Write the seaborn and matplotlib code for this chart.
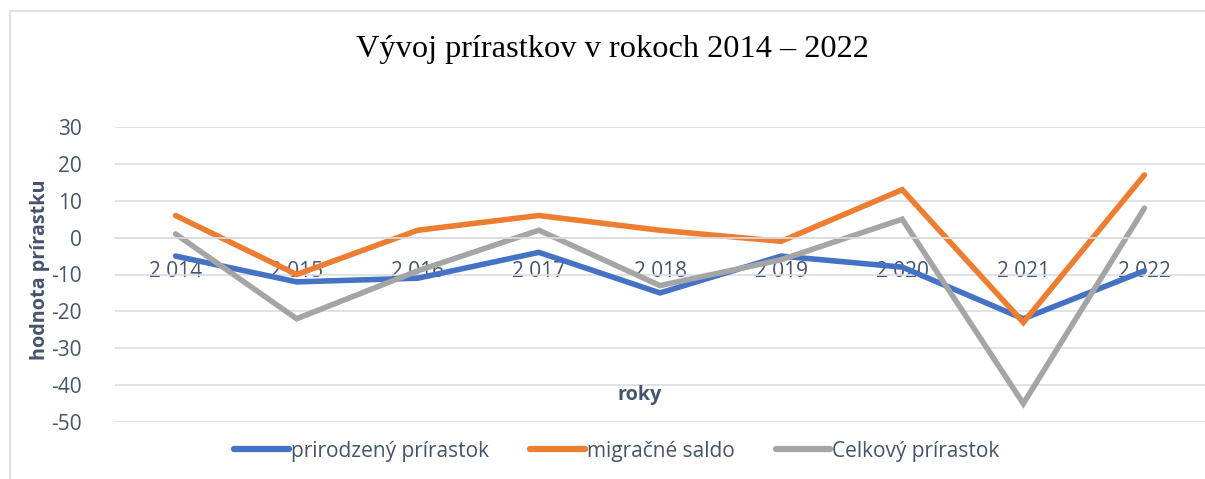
import pandas as pd
import matplotlib.pyplot as plt
import seaborn as sns
from matplotlib.lines import Line2D

# données
roky = ["2 014", "2 015", "2 016", "2 017", "2 018", "2 019", "2 020", "2 021", "2 022"]
prirodzeny = [-5, -12, -11, -4, -15, -5, -8, -22, -9]
migracne = [6, -10, 2, 6, 2, -1, 13, -23, 17]
celkovy = [1, -22, -9, 2, -13, -6, 5, -45, 8]

nazvy = ["prirodzený prírastok", "migračné saldo", "Celkový prírastok"]
farby = ["#4472C4", "#ED7D31", "#A5A5A5"]
text_farba = "#44546A"

data = pd.DataFrame({"rok": roky * 3,
                     "hodnota": prirodzeny + migracne + celkovy,
                     "seria": [nazvy[0]] * 9 + [nazvy[1]] * 9 + [nazvy[2]] * 9})
data["x"] = list(range(9)) * 3

sns.set_style("white")
plt.rcParams["font.family"] = ["Open Sans", "DejaVu Sans"]
plt.rcParams["axes.unicode_minus"] = False

fig = plt.figure(figsize=(12.05, 4.79), dpi=100)
ax = fig.add_axes([115 / 1205, 1 - 422 / 479, 1090 / 1205, 295 / 479])

sns.lineplot(data=data, x="x", y="hodnota", hue="seria", palette=farby,
             linewidth=4.0, ax=ax, legend=False, sort=False)
for l in ax.lines:
    l.set_solid_capstyle("round")
    l.set_solid_joinstyle("miter")

ax.set_xlim(-0.5, 8.5)
ax.set_ylim(-50, 30)
ax.set_yticks(range(-50, 31, 10))
ax.yaxis.grid(True, color="#D9DDE3", linewidth=1.2)
ax.set_axisbelow(True)
for s in ["top", "right", "left"]:
    ax.spines[s].set_visible(False)
ax.spines["bottom"].set_position(("data", 0))
ax.spines["bottom"].set_color("#D9DDE3")
ax.spines["bottom"].set_linewidth(1.2)

ax.set_xticks(range(9))
ax.set_xticklabels(roky)
ax.set_xticks([i - 0.5 for i in range(10)], minor=True)
ax.tick_params(axis="x", which="major", length=0, pad=17, labelsize=15, labelcolor=text_farba)
ax.tick_params(axis="x", which="minor", length=7, width=1.2, color="#D9DDE3", direction="out")
ax.tick_params(axis="y", length=0, pad=24, labelsize=15, labelcolor=text_farba)
ax.set_xlabel("")
ax.set_ylabel("")

fig.text(40 / 1205, 1 - 270 / 479, "hodnota prírastku", rotation=90, ha="center", va="center",
         fontsize=14.2, fontweight="bold", color=text_farba)
fig.text(640 / 1205, 1 - 395 / 479, "roky", ha="center", va="center",
         fontsize=14.2, fontweight="bold", color=text_farba)
fig.text(612 / 1205, 1 - 50 / 479, "Vývoj prírastkov v rokoch 2014 – 2022", ha="center", va="center",
         fontsize=23.3, family="Liberation Serif", color="black")

# legenda
handles = [Line2D([0], [0], color=c, linewidth=4.5, solid_capstyle="round") for c in farby]
fig.legend(handles, nazvy, loc="center", bbox_to_anchor=(617 / 1205, 1 - 451 / 479), ncol=3,
           frameon=False, fontsize=15, labelcolor=text_farba, handlelength=2.6,
           handletextpad=0.1, columnspacing=2.0)

# rám grafu
fig.add_artist(Line2D([10 / 1205, 10 / 1205], [0, 1 - 11 / 479], color="#DDE1E8", linewidth=1.5))
fig.add_artist(Line2D([10 / 1205, 1], [1 - 11 / 479, 1 - 11 / 479], color="#DDE1E8", linewidth=1.5))

fig.savefig("out.png", dpi=100)
